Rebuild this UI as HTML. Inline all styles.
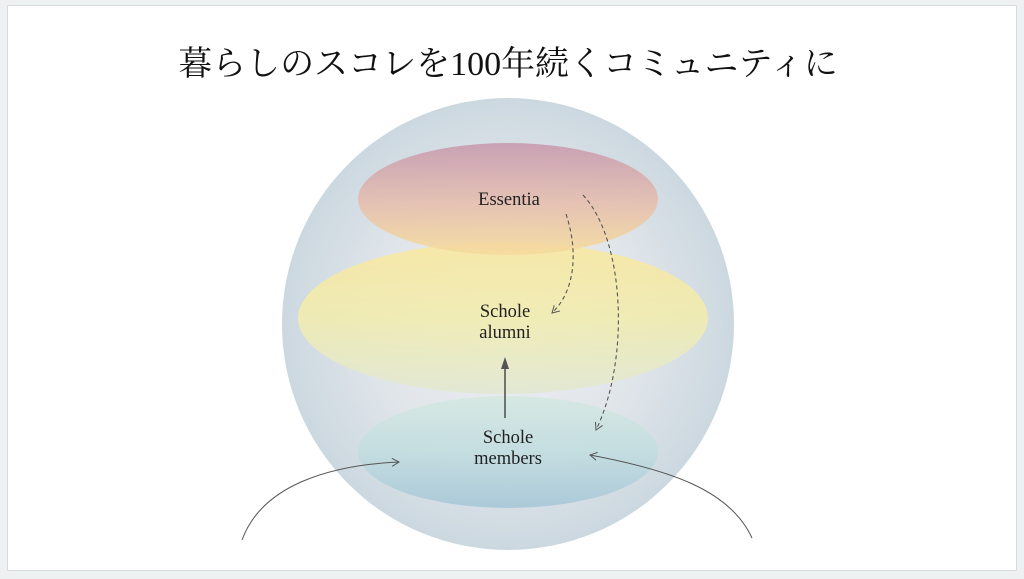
<!DOCTYPE html>
<html><head><meta charset="utf-8"><style>
html,body{margin:0;padding:0;background:#eef1f2;}
body{width:1024px;height:579px;position:relative;overflow:hidden;}
.frame{position:absolute;left:7px;top:5px;width:1008px;height:564px;background:#fff;border:1px solid #d6dbde;}
svg{position:absolute;left:0;top:0;}
</style></head><body>
<div class="frame"></div>
<svg width="1024" height="579" viewBox="0 0 1024 579">
<defs>
<radialGradient id="sph" cx="0.5" cy="0.5" r="0.5">
<stop offset="0" stop-color="#eef0f4"/>
<stop offset="0.6" stop-color="#e0e5ea"/>
<stop offset="1" stop-color="#ccd8e0"/>
</radialGradient>
<linearGradient id="top" x1="0" y1="0" x2="0" y2="1">
<stop offset="0" stop-color="#c79aae"/>
<stop offset="0.55" stop-color="#e6bfae"/>
<stop offset="1" stop-color="#f6dc9c"/>
</linearGradient>
<linearGradient id="mid" x1="0" y1="0" x2="0" y2="1">
<stop offset="0" stop-color="#f8e7a0"/>
<stop offset="0.5" stop-color="#f1ecb0"/>
<stop offset="1" stop-color="#e2e8d2"/>
</linearGradient>
<linearGradient id="bot" x1="0" y1="0" x2="0" y2="1">
<stop offset="0" stop-color="#d6e8e2"/>
<stop offset="0.5" stop-color="#c3dde0"/>
<stop offset="1" stop-color="#a9c8d8"/>
</linearGradient>
<marker id="op" markerWidth="10" markerHeight="10" refX="8" refY="5" orient="auto" markerUnits="userSpaceOnUse">
<path d="M1,1 L8,5 L1,9" fill="none" stroke="#555" stroke-width="1"/>
</marker>
</defs>
<text x="508" y="75" text-anchor="middle" font-family="'Liberation Serif','Noto Serif CJK SC',serif" font-size="34" fill="#111">暮らしのスコレを100年続くコミュニティに</text>
<circle cx="508" cy="324" r="226" fill="url(#sph)"/>
<ellipse cx="508" cy="452" rx="150" ry="56" fill="url(#bot)" opacity="0.95"/>
<ellipse cx="503" cy="318" rx="205" ry="76" fill="url(#mid)" opacity="0.9"/>
<ellipse cx="508" cy="199" rx="150" ry="56" fill="url(#top)" opacity="0.9"/>
<g font-family="'Liberation Serif',serif" font-size="18.5" fill="#222" text-anchor="middle">
<text x="509" y="205">Essentia</text>
<text x="505" y="317">Schole</text>
<text x="505" y="338">alumni</text>
<text x="508" y="443">Schole</text>
<text x="508" y="464">members</text>
</g>
<path d="M566,214 C578,250 576,290 552,313" fill="none" stroke="#555" stroke-width="1.1" stroke-dasharray="4,3" marker-end="url(#op)"/>
<path d="M583,195 C625,240 630,360 596,430" fill="none" stroke="#555" stroke-width="1.1" stroke-dasharray="4,3" marker-end="url(#op)"/>
<line x1="505" y1="418" x2="505" y2="360" stroke="#555" stroke-width="1.6"/>
<path d="M505,357 L501,369 L509,369 Z" fill="#555"/>
<path d="M242,540 C262,485 330,465 399,462" fill="none" stroke="#555" stroke-width="1" marker-end="url(#op)"/>
<path d="M752,538 C730,490 670,470 590,455" fill="none" stroke="#555" stroke-width="1" marker-end="url(#op)"/>
</svg>
</body></html>
